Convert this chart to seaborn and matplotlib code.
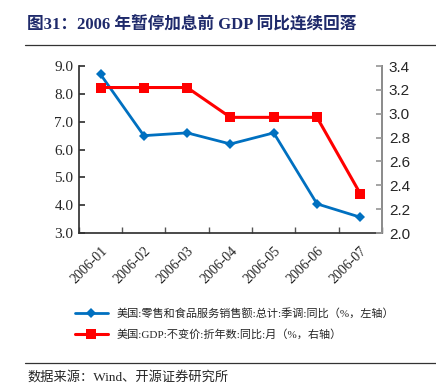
import pandas as pd
import numpy as np
import seaborn as sns
import matplotlib.pyplot as plt

# chart data
months = ['2006-01', '2006-02', '2006-03', '2006-04', '2006-05', '2006-06', '2006-07']
retail_yoy = [8.7, 6.5, 6.6, 6.2, 6.6, 4.05, 3.57]
gdp_yoy = [3.22, 3.22, 3.22, 2.97, 2.97, 2.97, 2.33]
left_ticks = [3.0, 4.0, 5.0, 6.0, 7.0, 8.0, 9.0]
right_ticks = [2.0, 2.2, 2.4, 2.6, 2.8, 3.0, 3.2, 3.4]
retail_label = '美国:零售和食品服务销售额:总计:季调:同比（%，左轴）'
gdp_label = '美国:GDP:不变价:折年数:同比:月（%，右轴）'

sns.set_theme(style='ticks')
serif_cjk = ['Liberation Serif', 'Noto Sans CJK SC']
plt.rcParams['font.family'] = serif_cjk

df = pd.DataFrame({'month': months, 'retail': retail_yoy, 'gdp': gdp_yoy})

fig = plt.figure(figsize=(4.36, 3.84), dpi=100)
ax = fig.add_axes([0.181, 0.393, 0.695, 0.435])
ax2 = ax.twinx()

sns.lineplot(data=df, x='month', y='retail', ax=ax, color='#0070C0', linewidth=2,
             marker='D', markersize=5, markeredgewidth=0, label=retail_label, legend=False)
sns.lineplot(data=df, x='month', y='gdp', ax=ax2, color='#FF0000', linewidth=2.2,
             marker='s', markersize=7, markeredgewidth=0, label=gdp_label, legend=False)

ax.set_xlim(-0.5, len(months) - 0.5)
ax.set_ylim(3.0, 9.0)
ax.set_yticks(left_ticks)
ax.set_yticklabels([f'{v:.1f}' for v in left_ticks], fontsize=11, family='Liberation Serif')
ax2.set_ylim(2.0, 3.4)
ax2.set_yticks(right_ticks)
ax2.set_yticklabels([f'{v:.1f}' for v in right_ticks], fontsize=11, family='Liberation Sans')

ax.set_xticks(range(len(months)))
ax.set_xticklabels(months, rotation=45, ha='right', rotation_mode='anchor',
                   fontsize=10, family='Liberation Serif')
ax.set_xticks(np.arange(-0.5, len(months)), minor=True)
ax.tick_params(axis='x', which='major', length=0, pad=8)
ax.tick_params(axis='x', which='minor', length=4, direction='in', color='#555555')
ax.tick_params(axis='y', length=4, direction='in', color='#333333', pad=4)
ax2.tick_params(axis='y', length=4, direction='in', color='#999999', pad=5)

ax.set_xlabel('')
ax.set_ylabel('')
ax2.set_ylabel('')
for a in (ax, ax2):
    a.spines['top'].set_visible(False)
ax.spines['left'].set_color('#333333')
ax.spines['bottom'].set_color('#333333')
ax2.spines['left'].set_visible(False)
ax2.spines['bottom'].set_visible(False)
ax2.spines['right'].set_color('#999999')

# legend below the plot
h1, l1 = ax.get_legend_handles_labels()
h2, l2 = ax2.get_legend_handles_labels()
fig.legend(h1 + h2, l1 + l2, loc='upper left', bbox_to_anchor=(0.148, 0.225),
           frameon=False, handlelength=3, labelspacing=1.0,
           prop={'family': serif_cjk, 'size': 8})

# title and source
fig.text(0.062, 0.935, '图31：2006 年暂停加息前 GDP 同比连续回落', fontsize=12,
         fontweight='bold', color='#1F2A6B', family=serif_cjk, va='center')
fig.add_artist(plt.Line2D([0.057, 1.0], [0.883, 0.883], color='#333333', linewidth=0.9))
fig.add_artist(plt.Line2D([0.057, 1.0], [0.055, 0.055], color='#333333', linewidth=0.9))
fig.text(0.062, 0.018, '数据来源：Wind、开源证券研究所', fontsize=9.5, family=serif_cjk, va='center')

fig.savefig('out.png', dpi=100, facecolor='white')
